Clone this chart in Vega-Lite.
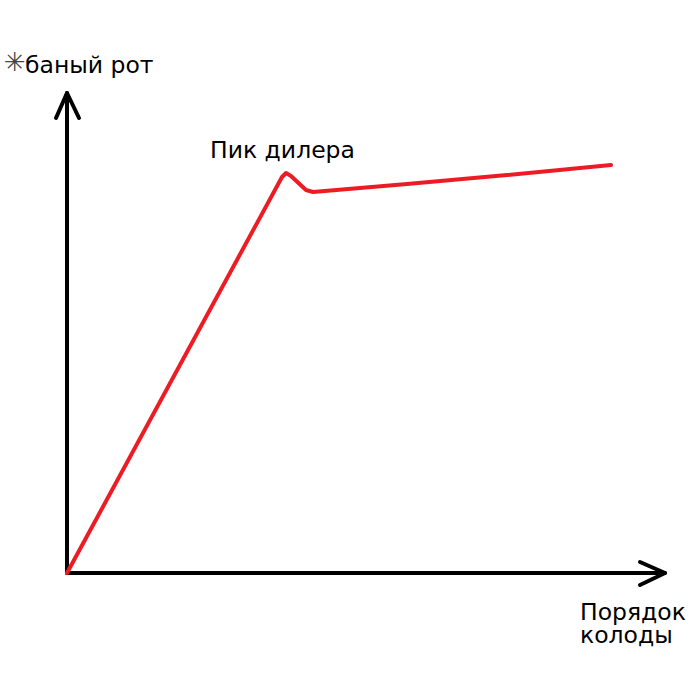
{
  "$schema": "https://vega.github.io/schema/vega-lite/v6.json",
  "width": 700,
  "height": 700,
  "padding": 0,
  "autosize": {"type": "fit", "contains": "padding"},
  "background": "white",
  "config": {"view": {"stroke": null}},
  "datasets": {
    "axes": [
      {"seg": "yaxis", "o": 1, "x": 0, "y": 0},
      {"seg": "yaxis", "o": 2, "x": 0, "y": 480},
      {"seg": "yarrow", "o": 1, "x": -11, "y": 455},
      {"seg": "yarrow", "o": 2, "x": 0, "y": 480},
      {"seg": "yarrow", "o": 3, "x": 12, "y": 455},
      {"seg": "xaxis", "o": 1, "x": 0, "y": 0},
      {"seg": "xaxis", "o": 2, "x": 598, "y": 0},
      {"seg": "xarrow", "o": 1, "x": 573, "y": 11},
      {"seg": "xarrow", "o": 2, "x": 598, "y": 0},
      {"seg": "xarrow", "o": 3, "x": 573, "y": -12}
    ],
    "curve": [
      {"o": 1, "x": 0, "y": 0},
      {"o": 2, "x": 215, "y": 396},
      {"o": 3, "x": 219, "y": 400},
      {"o": 4, "x": 224, "y": 397},
      {"o": 5, "x": 239, "y": 383},
      {"o": 6, "x": 246, "y": 381},
      {"o": 7, "x": 340, "y": 389},
      {"o": 8, "x": 440, "y": 398},
      {"o": 9, "x": 544, "y": 408}
    ],
    "labels": [
      {"t": "Пик дилера", "x": 143, "y": 415},
      {"t": "баный рот", "x": -42, "y": 500},
      {"t": "Порядок", "x": 513, "y": -47},
      {"t": "колоды", "x": 513, "y": -70}
    ],
    "star": [
      {"t": "✳", "x": -52, "y": 502}
    ]
  },
  "layer": [
    {
      "data": {"name": "axes"},
      "mark": {"type": "line", "color": "black", "strokeWidth": 4, "strokeCap": "round", "strokeJoin": "round"},
      "encoding": {
        "x": {"field": "x", "type": "quantitative", "scale": {"domain": [-67, 633]}, "axis": null},
        "y": {"field": "y", "type": "quantitative", "scale": {"domain": [-127, 573]}, "axis": null},
        "detail": {"field": "seg"},
        "order": {"field": "o"}
      }
    },
    {
      "data": {"name": "curve"},
      "mark": {"type": "line", "color": "#ed1c24", "strokeWidth": 4, "strokeCap": "round", "strokeJoin": "round"},
      "encoding": {
        "x": {"field": "x", "type": "quantitative", "scale": {"domain": [-67, 633]}, "axis": null},
        "y": {"field": "y", "type": "quantitative", "scale": {"domain": [-127, 573]}, "axis": null},
        "order": {"field": "o"}
      }
    },
    {
      "data": {"name": "labels"},
      "mark": {"type": "text", "align": "left", "baseline": "alphabetic", "font": "DejaVu Sans", "fontSize": 23.5, "color": "black"},
      "encoding": {
        "x": {"field": "x", "type": "quantitative", "scale": {"domain": [-67, 633]}, "axis": null},
        "y": {"field": "y", "type": "quantitative", "scale": {"domain": [-127, 573]}, "axis": null},
        "text": {"field": "t"}
      }
    },
    {
      "data": {"name": "star"},
      "mark": {"type": "text", "align": "center", "baseline": "alphabetic", "font": "DejaVu Sans", "fontSize": 26, "color": "#444444"},
      "encoding": {
        "x": {"field": "x", "type": "quantitative", "scale": {"domain": [-67, 633]}, "axis": null},
        "y": {"field": "y", "type": "quantitative", "scale": {"domain": [-127, 573]}, "axis": null},
        "text": {"field": "t"}
      }
    }
  ]
}
